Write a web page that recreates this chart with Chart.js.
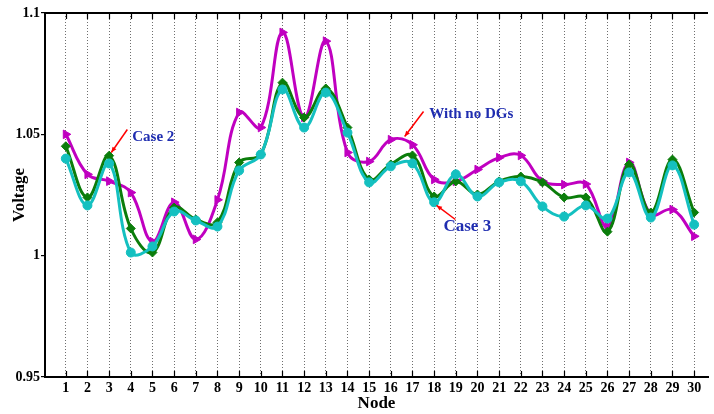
<!DOCTYPE html>
<html>
<head>
<meta charset="utf-8">
<script src="https://cdn.jsdelivr.net/npm/chart.js@4.4.0/dist/chart.umd.min.js"></script>
<style>
  html, body { margin: 0; padding: 0; background: #fff; overflow: hidden; }
  #wrap { width: 714px; height: 414px; }
</style>
</head>
<body>
<div id="wrap"><canvas id="voltChart" width="714" height="414"></canvas></div>
<script>
// Bus nodes and voltage profiles (p.u.)
const nodes = [1, 2, 3, 4, 5, 6, 7, 8, 9, 10, 11, 12, 13, 14, 15,
               16, 17, 18, 19, 20, 21, 22, 23, 24, 25, 26, 27, 28, 29, 30];

const noDG = [1.050, 1.0335, 1.0307, 1.026, 1.0058, 1.022, 1.0067, 1.023, 1.059, 1.0528,
              1.092, 1.057, 1.0884, 1.0425, 1.0388, 1.0478, 1.0457, 1.0314, 1.0306, 1.0355,
              1.0404, 1.0413, 1.0307, 1.0293, 1.0295, 1.012, 1.0384, 1.017, 1.019, 1.008];

const case2 = [1.0451, 1.024, 1.0412, 1.0112, 1.0013, 1.0198, 1.0149, 1.0137, 1.0384, 1.0417,
               1.0713, 1.0569, 1.0689, 1.0528, 1.0314, 1.0376, 1.0413, 1.0244, 1.0306, 1.0252,
               1.0306, 1.0326, 1.0302, 1.024, 1.024, 1.0099, 1.0376, 1.0178, 1.0396, 1.0178];

const case3 = [1.040, 1.0207, 1.038, 1.0013, 1.0038, 1.0182, 1.0145, 1.012, 1.0351, 1.0417,
               1.0685, 1.0528, 1.0672, 1.0507, 1.0302, 1.0368, 1.038, 1.022, 1.0335, 1.0244,
               1.0302, 1.0306, 1.0203, 1.0161, 1.0207, 1.0153, 1.0343, 1.0157, 1.0372, 1.0128];

const yTicks = [0.95, 1, 1.05, 1.1];

const serif = '"Liberation Serif", "Times New Roman", serif';

// Callout labels: text position and arrow (from -> to) in data units
const callouts = [
  { text: 'Case 2', size: 15, tx: 4.065, ty: 1.0487, from: [3.84, 1.0520], to: [3.10, 1.0425] },
  { text: 'With no DGs', size: 15, tx: 17.78, ty: 1.0582, from: [17.51, 1.0594], to: [16.64, 1.0491] },
  { text: 'Case 3', size: 17, tx: 18.43, ty: 1.0120, from: [18.98, 1.0149], to: [18.11, 1.0207] }
];

function toPoints(arr) {
  return arr.map((v, i) => ({ x: nodes[i], y: v }));
}

// Frame: top edge plus inward tick marks along top and bottom
const framePlugin = {
  id: 'frame',
  afterDatasetsDraw(chart) {
    const { ctx, chartArea, scales } = chart;
    ctx.save();
    ctx.strokeStyle = '#000';
    ctx.lineWidth = 2;
    ctx.beginPath();
    ctx.moveTo(chartArea.left - 1, chartArea.top);
    ctx.lineTo(chartArea.right, chartArea.top);
    ctx.stroke();
    ctx.lineWidth = 1.2;
    nodes.forEach(n => {
      const px = Math.round(scales.x.getPixelForValue(n)) + 0.5;
      ctx.beginPath();
      ctx.moveTo(px, chartArea.top);
      ctx.lineTo(px, chartArea.top + 6);
      ctx.moveTo(px, chartArea.bottom);
      ctx.lineTo(px, chartArea.bottom - 6);
      ctx.stroke();
    });
    ctx.restore();
  }
};

// Text annotations with red arrows
const calloutPlugin = {
  id: 'callouts',
  afterDatasetsDraw(chart) {
    const { ctx, scales } = chart;
    ctx.save();
    callouts.forEach(c => {
      const x1 = scales.x.getPixelForValue(c.from[0]);
      const y1 = scales.y.getPixelForValue(c.from[1]);
      const x2 = scales.x.getPixelForValue(c.to[0]);
      const y2 = scales.y.getPixelForValue(c.to[1]);
      ctx.strokeStyle = '#ff0000';
      ctx.fillStyle = '#ff0000';
      ctx.lineWidth = 1.5;
      ctx.beginPath();
      ctx.moveTo(x1, y1);
      ctx.lineTo(x2, y2);
      ctx.stroke();
      const ang = Math.atan2(y2 - y1, x2 - x1);
      const hl = 6;
      ctx.beginPath();
      ctx.moveTo(x2, y2);
      ctx.lineTo(x2 - hl * Math.cos(ang - 0.4), y2 - hl * Math.sin(ang - 0.4));
      ctx.lineTo(x2 - hl * Math.cos(ang + 0.4), y2 - hl * Math.sin(ang + 0.4));
      ctx.closePath();
      ctx.fill();

      ctx.fillStyle = '#1f2db0';
      ctx.font = 'bold ' + c.size + 'px ' + serif;
      ctx.textAlign = 'left';
      ctx.textBaseline = 'middle';
      ctx.fillText(c.text, scales.x.getPixelForValue(c.tx), scales.y.getPixelForValue(c.ty));
    });
    ctx.restore();
  }
};

const lineDefaults = {
  borderWidth: 3,
  tension: 0.4,
  pointRadius: 4,
  pointBorderWidth: 1,
  fill: false
};

const data = {
  datasets: [
    Object.assign({}, lineDefaults, {
      label: 'With no DGs',
      data: toPoints(noDG),
      borderColor: '#c000c0',
      backgroundColor: '#c000c0',
      pointStyle: 'triangle',
      rotation: 90,
      pointRadius: 5,
      order: 3
    }),
    Object.assign({}, lineDefaults, {
      label: 'Case 2',
      data: toPoints(case2),
      borderColor: '#0b7d0b',
      backgroundColor: '#0b7d0b',
      pointStyle: 'rectRot',
      pointRadius: 4.5,
      order: 2
    }),
    Object.assign({}, lineDefaults, {
      label: 'Case 3',
      data: toPoints(case3),
      borderColor: '#14c0c0',
      backgroundColor: '#14c0c0',
      pointStyle: 'circle',
      pointRadius: 4.5,
      order: 1
    })
  ]
};

const config = {
  type: 'line',
  data: data,
  plugins: [framePlugin, calloutPlugin],
  options: {
    responsive: false,
    animation: false,
    layout: { padding: { top: 13, right: 0, bottom: 0, left: 0 } },
    plugins: {
      legend: { display: false },
      tooltip: { enabled: false }
    },
    scales: {
      x: {
        type: 'linear',
        min: 0.04,
        max: 30.64,
        afterBuildTicks: scale => { scale.ticks = nodes.map(v => ({ value: v })); },
        afterFit: scale => { scale.height = 37; },
        grid: {
          color: '#6e6e6e',
          lineWidth: 1,
          drawTicks: false
        },
        // dash applies to the vertical grid lines, the axis line stays solid
        border: { display: true, color: '#000', width: 2, dash: [1, 2] },
        ticks: {
          color: '#000',
          padding: 3,
          maxRotation: 0,
          autoSkip: false,
          font: { family: serif, size: 14, weight: 'bold' }
        },
        title: {
          display: true,
          text: 'Node',
          color: '#000',
          padding: { top: 0, bottom: 0 },
          font: { family: serif, size: 17, weight: 'bold' }
        }
      },
      y: {
        min: 0.95,
        max: 1.1,
        afterBuildTicks: scale => { scale.ticks = yTicks.map(v => ({ value: v })); },
        afterFit: scale => { scale.width = 45; },
        grid: {
          drawOnChartArea: false,
          drawTicks: true,
          tickLength: 4,
          color: '#000',
          lineWidth: 1.2
        },
        border: { display: true, color: '#000', width: 2 },
        ticks: {
          color: '#000',
          padding: 1,
          callback: v => String(v),
          font: { family: serif, size: 14, weight: 'bold' }
        },
        title: {
          display: true,
          text: 'Voltage',
          color: '#000',
          padding: { top: 9, bottom: 0 },
          font: { family: serif, size: 17, weight: 'bold' }
        }
      }
    }
  }
};

window.onload = function() {
  const ctx = document.getElementById('voltChart').getContext('2d');
  new Chart(ctx, config);
};
</script>
</body>
</html>
